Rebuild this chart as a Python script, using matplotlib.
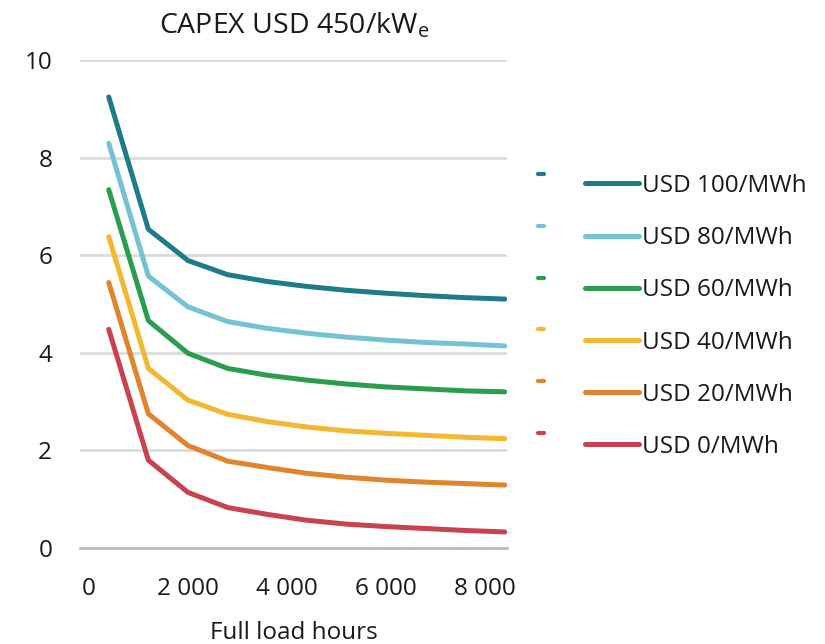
import matplotlib
matplotlib.use("Agg")
import matplotlib.pyplot as plt
from matplotlib.lines import Line2D
from matplotlib.ticker import FuncFormatter

plt.rcParams['font.family'] = ['Open Sans', 'DejaVu Sans']

# Full load hours of the electrolyser
hours = [400, 1200, 2000, 2800, 3600, 4400, 5200, 6000, 6800, 7600, 8400]

# Hydrogen production cost for each electricity price
usd_100 = [9.24, 6.53, 5.89, 5.60, 5.46, 5.36, 5.28, 5.22, 5.17, 5.13, 5.10]
usd_80 = [8.29, 5.57, 4.94, 4.64, 4.50, 4.40, 4.32, 4.26, 4.21, 4.18, 4.14]
usd_60 = [7.34, 4.66, 3.99, 3.68, 3.54, 3.44, 3.36, 3.30, 3.26, 3.22, 3.20]
usd_40 = [6.38, 3.68, 3.03, 2.74, 2.59, 2.48, 2.40, 2.35, 2.31, 2.27, 2.24]
usd_20 = [5.44, 2.75, 2.10, 1.78, 1.65, 1.53, 1.45, 1.39, 1.35, 1.32, 1.29]
usd_0 = [4.48, 1.80, 1.14, 0.83, 0.69, 0.57, 0.49, 0.44, 0.40, 0.36, 0.33]

labels = ["USD 100/MWh", "USD 80/MWh", "USD 60/MWh",
          "USD 40/MWh", "USD 20/MWh", "USD 0/MWh"]
series = [usd_100, usd_80, usd_60, usd_40, usd_20, usd_0]
colors = ["#1d7b8a", "#74c3d5", "#2a9d4e", "#f4b731", "#e0842d", "#c9424f"]

x_ticks = [0, 2000, 4000, 6000, 8000]
y_ticks = [0, 2, 4, 6, 8, 10]

FS = 17.5
TXT = '#1a1a1a'

fig = plt.figure(figsize=(8.25, 6.44), dpi=100)
ax = fig.add_axes([0.097, 0.149, 0.518, 0.758])

for vals, lab, col in zip(series, labels, colors):
    ax.plot(hours, vals, color=col, lw=3.6, label=lab,
            solid_capstyle='round', solid_joinstyle='round', zorder=3)

ax.set_xlim(-180, 8450)
ax.set_ylim(0, 10)
ax.set_xticks(x_ticks)
ax.set_yticks(y_ticks)
ax.xaxis.set_major_formatter(
    FuncFormatter(lambda v, p: f"{int(v):,}".replace(",", " ")))

ax.grid(axis='y', color='#dcdcdc', lw=2.0, zorder=0)
ax.set_axisbelow(True)
for side in ['top', 'right', 'left']:
    ax.spines[side].set_visible(False)
ax.spines['bottom'].set_color('#bdbdbd')
ax.spines['bottom'].set_linewidth(2.0)
ax.tick_params(axis='both', length=0, labelsize=FS, colors=TXT)
ax.tick_params(axis='y', pad=20)
ax.tick_params(axis='x', pad=21)

ax.set_title("CAPEX USD 450/kW$_\\mathregular{e}$", fontsize=20.5,
             color=TXT, pad=19)
ax.set_xlabel("Full load hours", fontsize=FS, color=TXT, labelpad=14)

handles, labs = ax.get_legend_handles_labels()
leg = fig.legend(handles, labs, loc='upper left',
                 bbox_to_anchor=(585 / 825, 1 - 174 / 644),
                 frameon=False, fontsize=FS, handlelength=2.22,
                 handletextpad=0.12, labelspacing=1.16, borderpad=0,
                 borderaxespad=0)
for t in leg.get_texts():
    t.set_color(TXT)

# short colour ticks to the left of the key
for i, col in enumerate(colors):
    yy = 1 - (174 + i * 51.8) / 644
    fig.add_artist(Line2D([538 / 825, 544 / 825], [yy, yy], color=col,
                          lw=3.0, solid_capstyle='round'))

fig.savefig("out.png", dpi=100, facecolor='white')
